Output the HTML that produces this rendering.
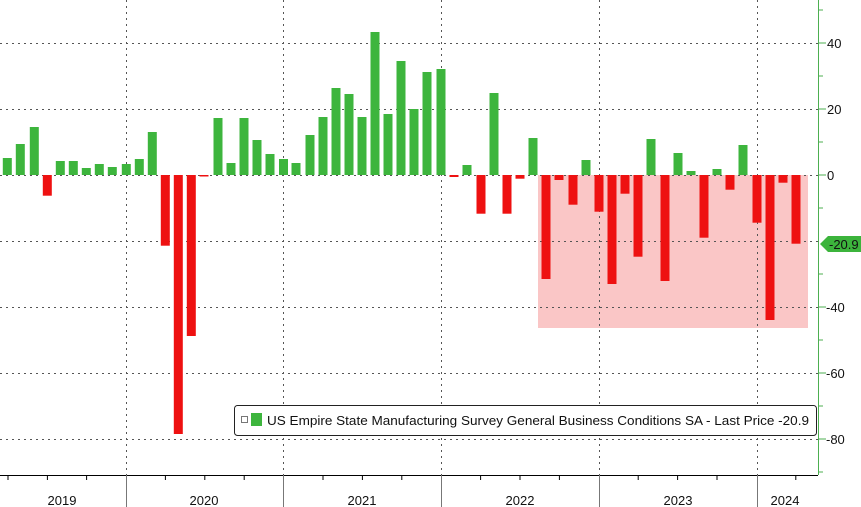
<!DOCTYPE html>
<html><head><meta charset="utf-8"><style>body{margin:0;background:#fff}svg{display:block}</style></head><body>
<svg width="861" height="507" xmlns="http://www.w3.org/2000/svg" font-family="'Liberation Sans', sans-serif">
<rect width="861" height="507" fill="#fff"/>
<rect x="538" y="175" width="270" height="153" fill="#fac6c6"/>
<g stroke="#555" stroke-width="1" stroke-dasharray="2,4">
<line x1="0" y1="43.5" x2="818" y2="43.5"/><line x1="0" y1="109.5" x2="818" y2="109.5"/><line x1="0" y1="175.5" x2="818" y2="175.5"/><line x1="0" y1="241.5" x2="818" y2="241.5"/><line x1="0" y1="307.5" x2="818" y2="307.5"/><line x1="0" y1="373.5" x2="818" y2="373.5"/><line x1="0" y1="439.5" x2="818" y2="439.5"/>
<line x1="126.5" y1="0" x2="126.5" y2="475"/><line x1="283.5" y1="0" x2="283.5" y2="475"/><line x1="441.5" y1="0" x2="441.5" y2="475"/><line x1="599.5" y1="0" x2="599.5" y2="475"/><line x1="757.5" y1="0" x2="757.5" y2="475"/>
</g>
<g fill="#3db53d">
<rect x="2.8" y="158" width="9" height="17"/><rect x="15.8" y="144" width="9" height="31"/><rect x="29.8" y="127" width="9" height="48"/>
<rect x="55.8" y="161" width="9" height="14"/><rect x="68.8" y="161" width="9" height="14"/><rect x="81.8" y="168" width="9" height="7"/><rect x="94.8" y="164" width="9" height="11"/><rect x="107.8" y="167" width="9" height="8"/><rect x="121.8" y="164" width="9" height="11"/><rect x="134.8" y="159" width="9" height="16"/><rect x="147.8" y="132" width="9" height="43"/>
<rect x="213.5" y="118" width="9" height="57"/><rect x="226.5" y="163" width="9" height="12"/><rect x="239.5" y="118" width="9" height="57"/><rect x="252.5" y="140" width="9" height="35"/><rect x="265.5" y="154" width="9" height="21"/><rect x="279" y="159" width="9" height="16"/><rect x="291.5" y="163" width="9" height="12"/><rect x="305.5" y="135" width="9" height="40"/><rect x="318.5" y="117" width="9" height="58"/><rect x="331.5" y="88" width="9" height="87"/><rect x="344.5" y="94" width="9" height="81"/><rect x="357.5" y="117" width="9" height="58"/><rect x="370.5" y="32" width="9" height="143"/><rect x="383.5" y="114" width="9" height="61"/><rect x="396.5" y="61" width="9" height="114"/><rect x="409.5" y="109" width="9" height="66"/><rect x="422.5" y="72" width="9" height="103"/><rect x="436.5" y="69" width="9" height="106"/>
<rect x="462.5" y="165" width="9" height="10"/><rect x="489.5" y="93" width="9" height="82"/><rect x="528.5" y="138" width="9" height="37"/><rect x="581.5" y="160" width="9" height="15"/><rect x="646.5" y="139" width="9" height="36"/><rect x="673.5" y="153" width="9" height="22"/><rect x="686.5" y="171" width="9" height="4"/><rect x="712.5" y="169" width="9" height="6"/><rect x="738.5" y="145" width="9" height="30"/>
</g>
<g fill="#ee1111">
<rect x="42.8" y="175" width="9" height="20.7"/><rect x="160.8" y="175" width="9" height="70.7"/><rect x="173.8" y="175" width="9" height="259"/><rect x="186.8" y="175" width="9" height="161"/><rect x="199.5" y="175" width="9" height="1.5"/>
<rect x="449.5" y="175" width="9" height="2"/><rect x="476.5" y="175" width="9" height="38.7"/><rect x="502.5" y="175" width="9" height="38.7"/><rect x="515.5" y="175" width="9" height="3.7"/><rect x="541.5" y="175" width="9" height="104"/><rect x="554.5" y="175" width="9" height="5"/><rect x="568.5" y="175" width="9" height="29.7"/><rect x="594.5" y="175" width="9" height="36.7"/><rect x="607.5" y="175" width="9" height="109"/><rect x="620.5" y="175" width="9" height="18.7"/><rect x="633.5" y="175" width="9" height="81.7"/><rect x="660.5" y="175" width="9" height="106"/><rect x="699.5" y="175" width="9" height="62.7"/><rect x="725.5" y="175" width="9" height="14.7"/><rect x="752.5" y="175" width="9" height="47.7"/><rect x="765.5" y="175" width="9" height="145"/><rect x="778.5" y="175" width="9" height="7.7"/><rect x="791.5" y="175" width="9" height="68.7"/>
</g>
<rect x="234.5" y="405.5" width="582" height="30" rx="3" fill="#fff" stroke="#222"/>
<rect x="241.5" y="416.5" width="6" height="6" fill="none" stroke="#777"/>
<rect x="251" y="413" width="11" height="13" fill="#3db53d"/>
<text x="267" y="425" font-size="13" fill="#111" textLength="542" lengthAdjust="spacingAndGlyphs">US Empire State Manufacturing Survey General Business Conditions SA - Last Price -20.9</text>
<line x1="0" y1="475.5" x2="818" y2="475.5" stroke="#000"/>
<g stroke="#777"><line x1="126.5" y1="475" x2="126.5" y2="507"/><line x1="283.5" y1="475" x2="283.5" y2="507"/><line x1="441.5" y1="475" x2="441.5" y2="507"/><line x1="599.5" y1="475" x2="599.5" y2="507"/><line x1="757.5" y1="475" x2="757.5" y2="507"/></g>
<g stroke="#000">
<line x1="8" y1="475" x2="8" y2="480"/><line x1="47.4" y1="475" x2="47.4" y2="480"/><line x1="86.6" y1="475" x2="86.6" y2="480"/><line x1="165.4" y1="475" x2="165.4" y2="480"/><line x1="204.8" y1="475" x2="204.8" y2="480"/><line x1="244.2" y1="475" x2="244.2" y2="480"/><line x1="323" y1="475" x2="323" y2="480"/><line x1="362.4" y1="475" x2="362.4" y2="480"/><line x1="401.8" y1="475" x2="401.8" y2="480"/><line x1="480.6" y1="475" x2="480.6" y2="480"/><line x1="520" y1="475" x2="520" y2="480"/><line x1="559.4" y1="475" x2="559.4" y2="480"/><line x1="638.2" y1="475" x2="638.2" y2="480"/><line x1="677.6" y1="475" x2="677.6" y2="480"/><line x1="717" y1="475" x2="717" y2="480"/><line x1="795.8" y1="475" x2="795.8" y2="480"/>
</g>
<g font-size="13" fill="#111" text-anchor="middle">
<text x="62" y="505">2019</text><text x="204" y="505">2020</text><text x="362" y="505">2021</text><text x="520" y="505">2022</text><text x="678" y="505">2023</text><text x="785" y="505">2024</text>
</g>
<line x1="818.5" y1="0" x2="818.5" y2="475" stroke="#4caf50"/>
<g stroke="#4caf50">
<line x1="818" y1="10" x2="823" y2="10"/><line x1="818" y1="43" x2="826" y2="43"/><line x1="818" y1="76" x2="823" y2="76"/><line x1="818" y1="109" x2="826" y2="109"/><line x1="818" y1="142" x2="823" y2="142"/><line x1="818" y1="175" x2="826" y2="175"/><line x1="818" y1="208" x2="823" y2="208"/><line x1="818" y1="274" x2="823" y2="274"/><line x1="818" y1="307" x2="826" y2="307"/><line x1="818" y1="340" x2="823" y2="340"/><line x1="818" y1="373" x2="826" y2="373"/><line x1="818" y1="406" x2="823" y2="406"/><line x1="818" y1="439" x2="826" y2="439"/><line x1="818" y1="472" x2="823" y2="472"/>
</g>
<g font-size="13" fill="#111">
<text x="827" y="48">40</text><text x="827" y="114">20</text><text x="827" y="180">0</text><text x="826" y="312">-40</text><text x="826" y="378">-60</text><text x="826" y="444">-80</text>
</g>
<polygon points="820,244 828,236 861,236 861,252 828,252" fill="#3cb43c"/>
<text x="829" y="249" font-size="13" fill="#111">-20.9</text>
</svg>
</body></html>
